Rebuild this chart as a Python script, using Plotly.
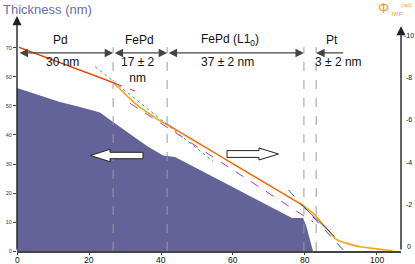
import plotly.graph_objects as go

# ---- data ----
thick_x = [0, 11.94, 17.5, 23.06, 26.67, 31.39, 36.11, 40.56, 43.89, 76.39, 79.44, 80.28, 82.22]
thick_y = [56.2, 51.4, 49.66, 47.76, 44.48, 40.34, 36.2, 32.93, 32.41, 11.38, 11.38, 8.97, 0]

phase_x = [0.56, 13.0, 26.75, 28.06, 30.0, 32.31, 34.44, 36.94, 39.17, 41.58, 50.0, 57.0, 65.0,
           73.06, 78.61, 80.83, 82.78, 85.56, 88.33, 90.0, 91.67, 95.28, 100.0, 104.44]
phase_y = [-9.42, -8.63, -7.75, -7.55, -7.22, -6.85, -6.56, -6.27, -6.01, -5.78, -4.93, -4.23, -3.42,
           -2.61, -2.05, -1.79, -1.51, -0.96, -0.41, -0.26, -0.17, -0.01, 0.09, 0.19]

fit_pd_x = [0.56, 26.75]; fit_pd_y = [-9.42, -7.75]
fit_pd_ext_x = [26.75, 32.8]; fit_pd_ext_y = [-7.75, -7.36]
fit_fepd_x = [21.7, 54.5]; fit_fepd_y = [-8.51, -4.03]
fit_l10_x = [31.4, 82.2]; fit_l10_y = [-6.78, -1.19]
fit_l10_solid_x = [41.7, 80.0]; fit_l10_solid_y = [-5.80, -1.89]
fit_pt_x = [75.4, 90.6]; fit_pt_y = [-2.69, 0.14]
fit_pt_solid_x = [79.1, 88.3]; fit_pt_solid_y = [-1.98, -0.49]

boundaries = [26.7, 41.7, 79.7, 83.1]
layer_names = ["Pd", "FePd", "FePd (L1<sub>0</sub>)", "Pt"]
layer_thick = ["30 nm", "17 ± 2<br>nm", "37 ± 2 nm", "3 ± 2 nm"]
layer_label_x = [12.2, 33.9, 59.2, 87.5]
thick_label_x = [12.5, 33.6, 58.6, 89.4]

x_ticks = [0, 20, 40, 60, 80, 100]
left_ticks = [0, 10, 20, 30, 40, 50, 60, 70]
right_ticks = [-10, -8, -6, -4, -2, 0]

# ---- layout constants ----
W, H = 415, 264
ML, MR, MT, MB = 17, 14, 16, 13
XMAX = 106.67
YMAX = 81.03
Y2RANGE = [0.19, -10.9]
FONT = "Liberation Sans, Arial, sans-serif"
ORANGE = "#f7a21b"

def px2paper(px, py):
    return ((px - ML) / (W - ML - MR), (H - MB - py) / (H - MT - MB))

fig = go.Figure()
fig.add_trace(go.Scatter(x=thick_x, y=thick_y, mode="lines", fill="tozeroy",
                         line=dict(width=0, color="#63639a"), fillcolor="#63639a",
                         hoverinfo="skip", showlegend=False))

def fitline(xs, ys, color, dash, width=1.2):
    fig.add_trace(go.Scatter(x=xs, y=ys, yaxis="y2", mode="lines",
                             line=dict(color=color, dash=dash, width=width),
                             showlegend=False, hoverinfo="skip"))

fig.add_trace(go.Scatter(x=phase_x, y=phase_y, yaxis="y2", mode="lines",
                         line=dict(color=ORANGE, width=1.6, shape="spline", smoothing=0.5),
                         showlegend=False, hoverinfo="skip"))
fitline(fit_pd_x, fit_pd_y, "#e8231f", "solid", 1.0)
fitline(fit_pd_ext_x, fit_pd_ext_y, "#e8231f", "dash", 1.0)
fitline(fit_fepd_x, fit_fepd_y, "#3aa36a", "dot", 1.0)
fitline(fit_l10_solid_x, fit_l10_solid_y, "#e8231f", "solid", 0.6)
fitline(fit_l10_x, fit_l10_y, "#b03ab8", "dash", 1.0)
fitline(fit_pt_x, fit_pt_y, "#4a4ab8", "dash", 1.0)
fitline(fit_pt_solid_x, fit_pt_solid_y, "#222244", "solid", 0.8)

shapes = []
for b in boundaries:
    shapes.append(dict(type="line", xref="x", yref="y", x0=b, x1=b, y0=0, y1=70.3,
                       line=dict(color="#9a9a9a", width=1, dash="dash"), layer="above"))

# hollow arrows
def hollow_arrow(tail, tip, cy, shaft_half, head_half, head_base):
    pts = [(tail, cy - shaft_half), (head_base, cy - shaft_half), (head_base, cy - head_half),
           (tip, cy), (head_base, cy + head_half), (head_base, cy + shaft_half), (tail, cy + shaft_half)]
    p = [px2paper(a, b) for a, b in pts]
    path = "M " + " L ".join(f"{a:.4f},{b:.4f}" for a, b in p) + " Z"
    shapes.append(dict(type="path", xref="paper", yref="paper", path=path,
                       fillcolor="white", line=dict(color="#222", width=1)))

hollow_arrow(143, 90.5, 155.5, 3.2, 6.2, 110)
hollow_arrow(227, 278.5, 154, 3.4, 6, 259)

annotations = []
# axis lines with arrowheads
annotations.append(dict(x=0, y=81.0, ax=0, ay=0, xref="x", yref="y", axref="x", ayref="y",
                        text="", showarrow=True, arrowhead=2, arrowsize=1.3, arrowwidth=1.4,
                        arrowcolor="#222"))
annotations.append(dict(x=XMAX, y=-10.42, ax=XMAX, ay=0.19, xref="x", yref="y2", axref="x", ayref="y2",
                        text="", showarrow=True, arrowhead=2, arrowsize=1.3, arrowwidth=1.4,
                        arrowcolor="#222"))
# right axis tick labels
rx, _ = px2paper(409, 0)
for v in right_ticks:
    annotations.append(dict(x=rx, y=v, xref="paper", yref="y2", xanchor="center", yanchor="middle",
                            text=str(v), showarrow=False, font=dict(family=FONT, size=7, color="#111")))
# x axis tick labels
_, xly = px2paper(0, 259.5)
for v in x_ticks:
    annotations.append(dict(x=v, y=xly, xref="x", yref="paper", xanchor="center", yanchor="middle",
                            text=str(v), showarrow=False, font=dict(family=FONT, size=8.5, color="#111")))
# layer double arrows
ya = 68.3
segs = [(0.3, boundaries[0]), (boundaries[0], boundaries[1]), (boundaries[1], boundaries[2])]
for a, b in segs:
    annotations.append(dict(x=b, y=ya, ax=a, ay=ya, xref="x", yref="y", axref="x", ayref="y",
                            text="", showarrow=True, arrowhead=2, arrowside="end+start",
                            arrowsize=1.3, arrowwidth=1.3, arrowcolor="#444"))
annotations.append(dict(x=boundaries[3], y=ya, ax=91.0, ay=ya, xref="x", yref="y", axref="x", ayref="y",
                        text="", showarrow=True, arrowhead=2, arrowsize=1.3, arrowwidth=1.3,
                        arrowcolor="#444"))
for name, lx in zip(layer_names, layer_label_x):
    annotations.append(dict(x=lx, y=72.6, xref="x", yref="y", text=name, showarrow=False,
                            font=dict(family=FONT, size=12, color="#111")))
for t, lx in zip(layer_thick, thick_label_x):
    yy = 65.3 if "<br>" not in t else 62.3
    annotations.append(dict(x=lx, y=yy, xref="x", yref="y", text=t, showarrow=False,
                            font=dict(family=FONT, size=12, color="#111")))

# titles
tx, ty = px2paper(1, 9)
annotations.append(dict(x=tx, y=ty, xref="paper", yref="paper", xanchor="left", yanchor="middle",
                        text="Thickness (nm)", showarrow=False,
                        font=dict(family=FONT, size=13, color="#6b6baa")))
px_, py_ = px2paper(383, 8)
annotations.append(dict(x=px_, y=py_, xref="paper", yref="paper", xanchor="center", yanchor="middle",
                        text="Φ", showarrow=False, font=dict(family=FONT, size=14, color=ORANGE)))
px_, py_ = px2paper(389.5, 14)
annotations.append(dict(x=px_, y=py_, xref="paper", yref="paper", xanchor="left", yanchor="middle",
                        text="MIP", showarrow=False, font=dict(family=FONT, size=6, color=ORANGE)))
px_, py_ = px2paper(414, 5)
annotations.append(dict(x=px_, y=py_, xref="paper", yref="paper", xanchor="right", yanchor="middle",
                        text="(rad)", showarrow=False, font=dict(family=FONT, size=5, color=ORANGE)))

fig.update_layout(
    template="none",
    width=W, height=H, margin=dict(l=ML, r=MR, t=MT, b=MB, pad=0, autoexpand=False),
    paper_bgcolor="white", plot_bgcolor="white", showlegend=False,
    font=dict(family=FONT),
    xaxis=dict(range=[0, XMAX], tickvals=x_ticks, showgrid=False, zeroline=False, automargin=False,
               showline=True, linecolor="#444", linewidth=1.5, ticks="outside", ticklen=2,
               tickcolor="#444", showticklabels=False),
    yaxis=dict(range=[0, YMAX], tickvals=left_ticks, showgrid=False, zeroline=False, automargin=False,
               showline=False, ticks="outside", ticklen=3, tickcolor="#444",
               tickfont=dict(size=5.5, color="#333")),
    yaxis2=dict(range=Y2RANGE, tickvals=right_ticks, overlaying="y", side="right", anchor="x",
                automargin=False, showgrid=False, zeroline=False, showline=False, ticks="",
                showticklabels=False),
    shapes=shapes, annotations=annotations,
)

fig.write_html("out.html", config={"displayModeBar": False},
               post_script="document.body.style.margin='0';document.body.style.padding='0';")
